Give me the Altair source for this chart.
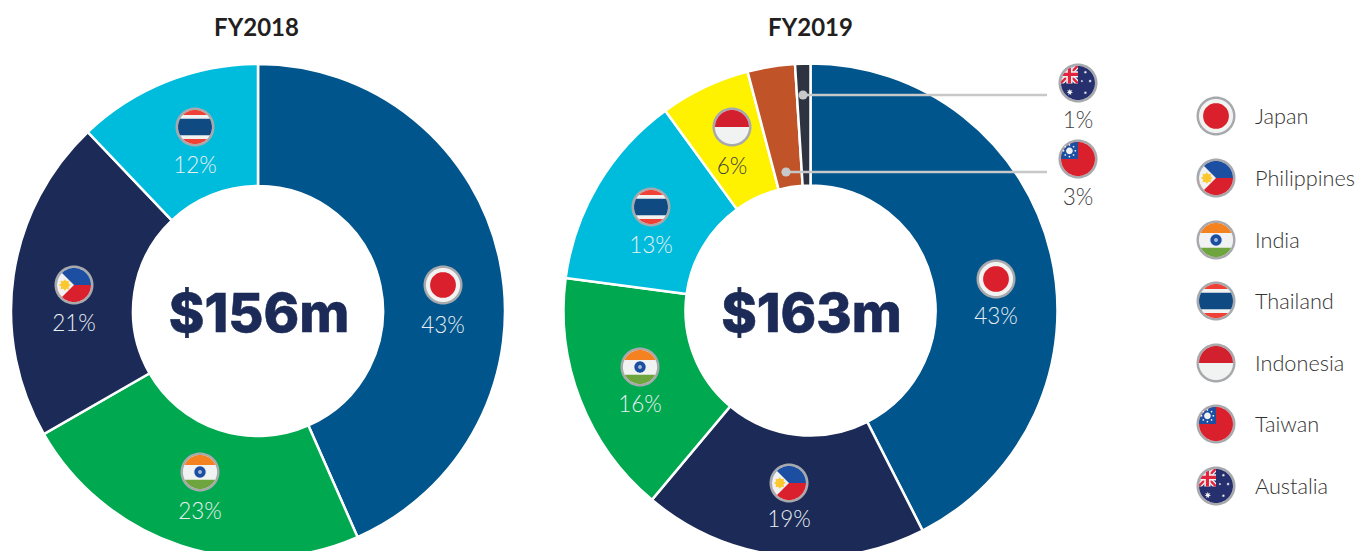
import math
import altair as alt
import pandas as pd

W, H = 1347, 543

countries = ["Japan", "Philippines", "India", "Thailand", "Indonesia", "Taiwan", "Australia"]
slice_colors = {"Japan": "#00558c", "Philippines": "#1b2a56", "India": "#00a94f", "Thailand": "#00bcdc",
                "Indonesia": "#fff200", "Taiwan": "#c05327", "Australia": "#2d3340"}

fy18_names = ["Japan", "India", "Philippines", "Thailand"]
fy18_values = [43.4, 23.3, 21.2, 12.1]
fy19_names = ["Japan", "Philippines", "India", "Thailand", "Indonesia", "Taiwan", "Australia"]
fy19_values = [42.5, 18.6, 16.0, 12.9, 5.9, 3.1, 1.0]

legend_names = ["Japan", "Philippines", "India", "Thailand", "Indonesia", "Taiwan", "Austalia"]
legend_flags = countries
legend_y = [116, 178, 240, 301, 363, 424, 486]
legend_text_y = [117, 179, 241, 302, 364, 425, 487]

fy18_labels = [("Japan", "43%", 443, 285, 325.5), ("India", "23%", 200, 472, 511.5),
               ("Philippines", "21%", 74, 285, 323.5), ("Thailand", "12%", 195, 127, 165.5)]
fy19_labels = [("Japan", "43%", 996, 279, 316.5), ("Philippines", "19%", 789, 483, 519.5),
               ("India", "16%", 640, 367, 404.5), ("Thailand", "13%", 651, 207, 245.5),
               ("Indonesia", "6%", 732, 127, 166.5), ("Australia", "1%", 1078, 83, 121),
               ("Taiwan", "3%", 1078, 159, 198)]
dark_labels = ["6%", "1%", "3%"]

leaders = [(803, 1047, 95), (786, 1047, 172)]
totals = [("$156m", 259, 316), ("$163m", 811.5, 316)]
titles = [("FY2018", 256.5, 29), ("FY2019", 810.5, 29)]


# ---- flag glyphs, in a unit circle (custom point shapes) ----
def circle_poly(cx=0.0, cy=0.0, r=0.87, n=72):
    return [(cx + r * math.cos(2 * math.pi * i / n), cy + r * math.sin(2 * math.pi * i / n)) for i in range(n)]


def clip(poly, convex):
    out = poly
    m = len(convex)
    for i in range(m):
        ax, ay = convex[i]
        bx, by = convex[(i + 1) % m]
        side = lambda p: (bx - ax) * (p[1] - ay) - (by - ay) * (p[0] - ax)
        inp, out = out, []
        for j in range(len(inp)):
            p, q = inp[j], inp[(j + 1) % len(inp)]
            sp, sq = side(p), side(q)
            if sp >= 0:
                out.append(p)
            if sp * sq < 0:
                t = sp / (sp - sq)
                out.append((p[0] + t * (q[0] - p[0]), p[1] + t * (q[1] - p[1])))
        if not out:
            return []
    return out


def to_path(*polys):
    s = ""
    for poly in polys:
        s += "M" + "L".join(f"{x:.3f},{y:.3f}" for x, y in poly) + "Z"
    return s


def rect(x0, y0, x1, y1):
    return [(x0, y0), (x1, y0), (x1, y1), (x0, y1)]


DISC = circle_poly()


def band(y0, y1):
    return clip(rect(-1, y0, 1, y1), DISC)


def wedge(a0, a1, n=24):
    pts = [(0.0, 0.0)]
    for i in range(n + 1):
        a = math.radians(a0 + (a1 - a0) * i / n)
        pts.append((0.87 * math.cos(a), 0.87 * math.sin(a)))
    return pts


def star(cx, cy, r, k=5, inner=0.45):
    pts = []
    for i in range(2 * k):
        a = -math.pi / 2 + math.pi * i / k
        rr = r if i % 2 == 0 else r * inner
        pts.append((cx + rr * math.cos(a), cy + rr * math.sin(a)))
    return pts


def stripe(x0, y0, x1, y1, w):
    dx, dy = x1 - x0, y1 - y0
    L = math.hypot(dx, dy)
    nx, ny = -dy / L * w, dx / L * w
    return [(x0 + nx, y0 + ny), (x1 + nx, y1 + ny), (x1 - nx, y1 - ny), (x0 - nx, y0 - ny)]


RED, WHITE, BLUE = "#da1f2d", "#f1f2f2", "#1c4fa1"


def in_canton(poly):
    return clip(clip(poly, rect(-0.9, -0.9, 0.0, 0.02)), DISC)


sun_rays = [circle_poly(-0.44 + 0.3 * math.cos(i * math.pi / 4), -0.42 + 0.3 * math.sin(i * math.pi / 4), 0.045, 12)
            for i in range(8)]

flag_parts = {
    "Japan": [(to_path(circle_poly(r=0.66)), RED)],
    "Philippines": [(to_path(band(-1, 0)), BLUE), (to_path(band(0, 1)), RED),
                    (to_path(wedge(135, 225)), WHITE),
                    (to_path(star(-0.47, 0.0, 0.3, 8, 0.7)), "#fdc82f")],
    "India": [(to_path(band(-1, -0.36)), "#f58220"), (to_path(band(0.4, 1)), "#6ea53f"),
              (to_path(circle_poly(r=0.29)), BLUE), (to_path(circle_poly(r=0.1)), "#9fb6d9")],
    "Thailand": [(to_path(band(-1, -0.62)), "#ef4136"), (to_path(band(0.62, 1)), "#ef4136"),
                 (to_path(band(-0.42, 0.42)), "#0f4a82")],
    "Indonesia": [(to_path(band(-1, 0)), "#d2202f")],
    "Taiwan": [(to_path(DISC), RED), (to_path(wedge(180, 270)), BLUE),
               (to_path(*sun_rays), WHITE), (to_path(circle_poly(-0.44, -0.42, 0.17, 24)), WHITE)],
    "Australia": [(to_path(DISC), "#27306f"),
                  (to_path(in_canton(stripe(-0.9, -0.9, 0.0, 0.02, 0.13)),
                           in_canton(stripe(-0.9, 0.02, 0.0, -0.9, 0.13))), WHITE),
                  (to_path(in_canton(stripe(-0.9, -0.9, 0.0, 0.02, 0.06)),
                           in_canton(stripe(-0.9, 0.02, 0.0, -0.9, 0.06))), "#e2233d"),
                  (to_path(in_canton(rect(-0.9, -0.6, 0.0, -0.28)),
                           in_canton(rect(-0.6, -0.9, -0.28, 0.02))), WHITE),
                  (to_path(in_canton(rect(-0.9, -0.52, 0.0, -0.36)),
                           in_canton(rect(-0.52, -0.9, -0.36, 0.02))), "#e2233d"),
                  (to_path(star(-0.42, 0.47, 0.17, 7), star(0.38, 0.5, 0.09, 7), star(0.38, -0.55, 0.09, 7),
                           star(0.62, -0.1, 0.09, 7), star(0.2, -0.1, 0.07, 7)), WHITE)],
}
RING = to_path(circle_poly(r=1.0))
FIELD = to_path(circle_poly(r=0.875))

placements = [(c, x, y) for c, _, x, y, _ in fy18_labels + fy19_labels]
placements += [(c, 1216, y) for c, y in zip(legend_flags, legend_y)]
rows = []
for c, x, y in placements:
    rows.append(dict(x=x, y=y, path=RING, col="#a7a9ac"))
    rows.append(dict(x=x, y=y, path=FIELD, col=WHITE))
    for p, col in flag_parts[c]:
        rows.append(dict(x=x, y=y, path=p, col=col))
flags_df = pd.DataFrame(rows)
flags_df["ord"] = range(len(flags_df))

# ---- scales mapping page pixels onto the plot area ----
X = alt.X("x:Q", scale=alt.Scale(domain=[8, 8 + W], range=[0, W], nice=False, zero=False), axis=None)
Y = alt.Y("y:Q", scale=alt.Scale(domain=[8, 8 + H], range=[0, H], nice=False, zero=False), axis=None)
THETA = alt.Scale(domain=[0, 100], range=[0, 2 * math.pi])


def donut(names, values, cx, cy):
    d = pd.DataFrame({"name": names, "v": values})
    d["end"] = d["v"].cumsum()
    d["start"] = d["end"] - d["v"]
    d["col"] = [slice_colors[n] for n in names]
    return alt.Chart(d).mark_arc(radius=247, radius2=125, stroke="white", strokeWidth=2.5).encode(
        x=alt.value(cx - 8), y=alt.value(cy - 8),
        theta=alt.Theta("start:Q", scale=THETA),
        theta2="end:Q",
        color=alt.Color("col:N", scale=None),
        order=alt.Order("start:Q"),
    )


lines_df = pd.DataFrame(leaders, columns=["x", "x2", "y"])
rules = alt.Chart(lines_df).mark_rule(color="#c7c8ca", strokeWidth=2.5).encode(x=X, x2="x2:Q", y=Y)
dots = alt.Chart(lines_df).mark_circle(color="#c7c8ca", size=85, opacity=1).encode(x=X, y=Y)

flags = alt.Chart(flags_df).mark_point(filled=True, opacity=1, size=39 ** 2, strokeWidth=0).encode(
    x=X, y=Y,
    shape=alt.Shape("path:N", scale=None),
    color=alt.Color("col:N", scale=None),
    order=alt.Order("ord:Q"),
)

pct_rows = [dict(t=t, x=x, y=ty, col="#414042" if t in dark_labels else "#e8eef2")
            for _, t, x, _, ty in fy18_labels + fy19_labels]
pct = alt.Chart(pd.DataFrame(pct_rows)).mark_text(font="Lato", fontWeight=300, fontSize=22.5).encode(
    x=X, y=Y, text="t:N", color=alt.Color("col:N", scale=None))

leg = alt.Chart(pd.DataFrame({"t": legend_names, "y": legend_text_y, "x": [1255] * 7})).mark_text(
    font="Lato", fontWeight=300, fontSize=21.7, align="left", color="#333333").encode(x=X, y=Y, text="t:N")

tot = alt.Chart(pd.DataFrame(totals, columns=["t", "x", "y"])).mark_text(
    font="Inter", fontWeight=800, fontSize=54, color="#1b2a56", stroke="#1b2a56", strokeWidth=0.6
).encode(x=X, y=Y, text="t:N")

ttl = alt.Chart(pd.DataFrame(titles, columns=["t", "x", "y"])).mark_text(
    font="Lato", fontWeight=700, fontSize=24, color="#231f20").encode(x=X, y=Y, text="t:N")

chart = alt.layer(
    donut(fy18_names, fy18_values, 258, 311),
    donut(fy19_names, fy19_values, 810.5, 310.5),
    rules, dots, flags, pct, leg, tot, ttl,
).properties(width=W, height=H, padding=0, autosize=alt.AutoSizeParams(type="none"), background="white"
).configure_view(stroke=None)

chart.save("out.html", embed_options={"renderer": "svg", "actions": False})
